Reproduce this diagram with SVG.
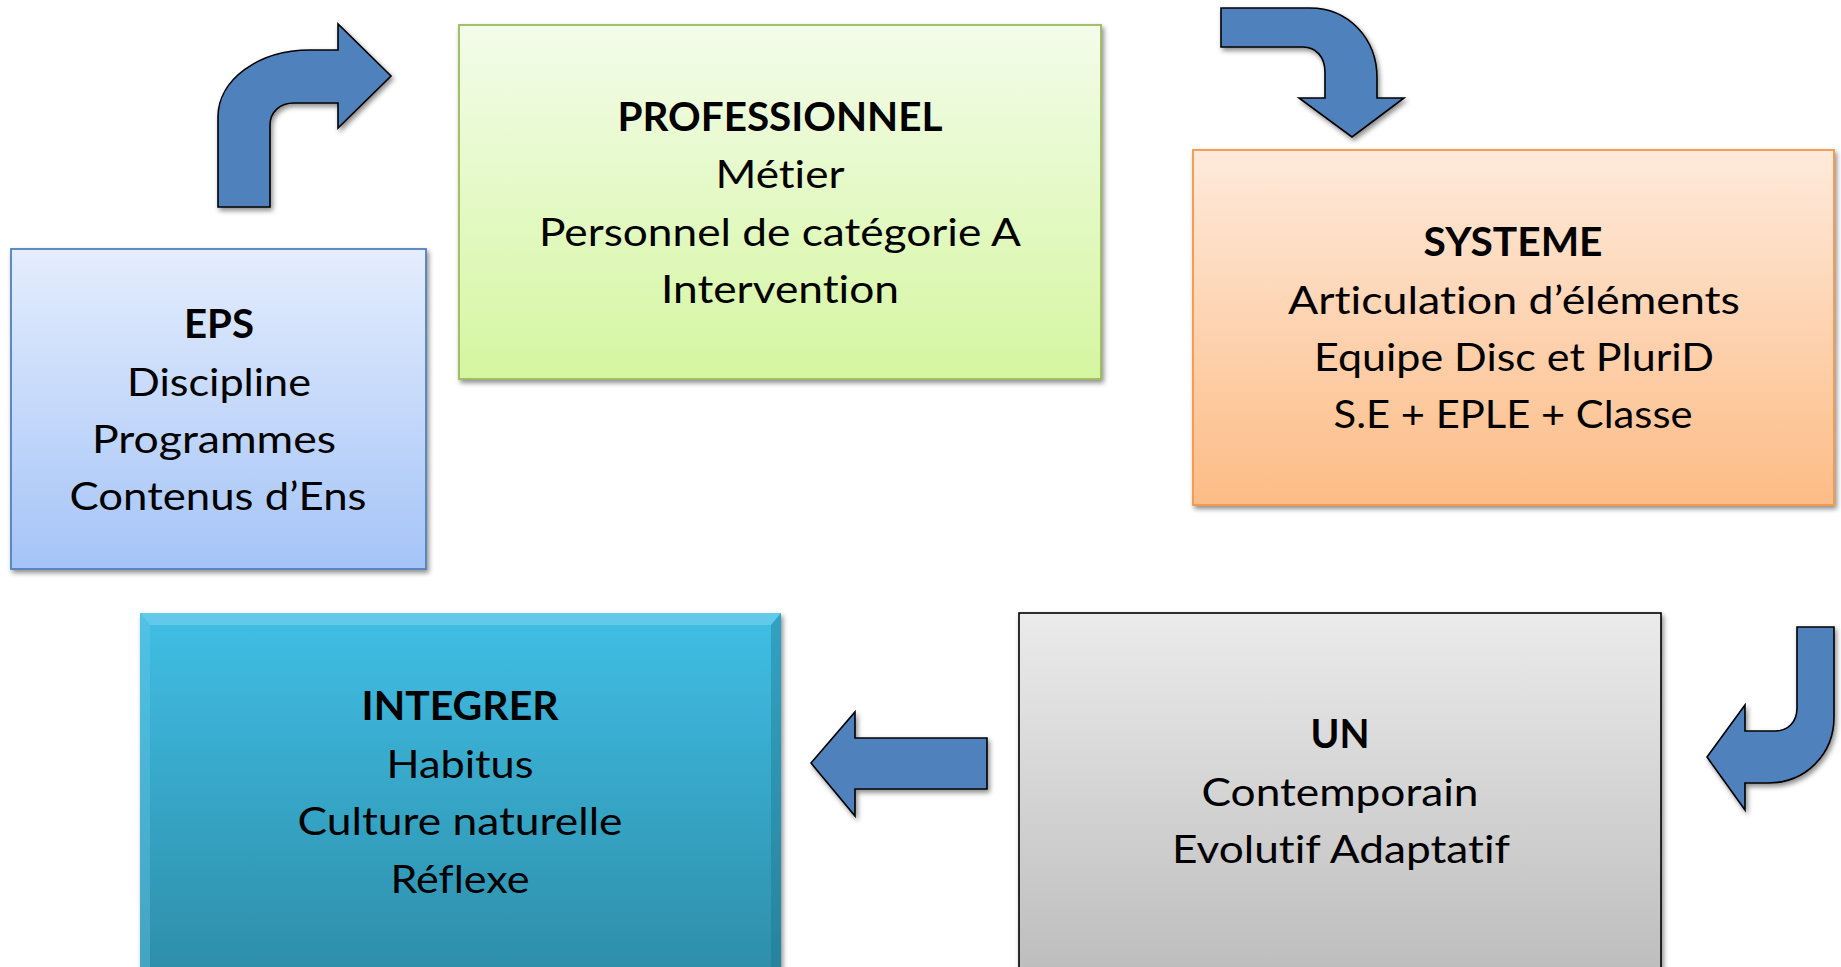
<svg xmlns="http://www.w3.org/2000/svg" width="1841" height="967" viewBox="0 0 1841 967">
<defs>
<style>
text{font-family:Lato,"Open Sans","Liberation Sans",sans-serif;font-size:39.5px;fill:#000;text-anchor:middle;font-variant-ligatures:none}
.t{font-weight:bold}
.arrow{fill:#4F81BD;stroke:#000;stroke-width:1.6;stroke-linejoin:miter}
</style>
<linearGradient id="gBlue" x1="0" y1="0" x2="0" y2="1"><stop offset="0" stop-color="#E4EDFD"/><stop offset="1" stop-color="#A5C4F7"/></linearGradient>
<linearGradient id="gGreen" x1="0" y1="0" x2="0" y2="1"><stop offset="0" stop-color="#F3FCEA"/><stop offset="1" stop-color="#D5F6A0"/></linearGradient>
<linearGradient id="gOrange" x1="0" y1="0" x2="0" y2="1"><stop offset="0" stop-color="#FEEADB"/><stop offset="1" stop-color="#FDBC86"/></linearGradient>
<linearGradient id="gTeal" x1="0" y1="0" x2="0" y2="1"><stop offset="0" stop-color="#40BEE5"/><stop offset="1" stop-color="#2D8DA8"/></linearGradient>
<linearGradient id="gGray" x1="0" y1="0" x2="0" y2="1"><stop offset="0" stop-color="#EBEBEB"/><stop offset="1" stop-color="#BCBCBC"/></linearGradient>
<filter id="sh" x="-5%" y="-5%" width="112%" height="115%"><feDropShadow dx="2" dy="3" stdDeviation="2.5" flood-color="#000" flood-opacity="0.45"/></filter>
</defs>
<rect width="1841" height="967" fill="#fff"/>
<g id="connectors">
<path class="arrow" filter="url(#sh)" d="M218,207 L218,117 C218,80 258,50 310,50 L338,50 L338,24 L391,76 L338,128 L338,103 L294,103 C280,103 270,112 270,125 L270,207 Z"/>
<path class="arrow" filter="url(#sh)" d="M1221,8 L1310,8 C1348,8 1377,38 1377,78 L1377,98 L1404,98 L1352,137 L1299,98 L1325,98 L1325,72 C1325,57 1316,47 1303,47 L1221,47 Z"/>
<path class="arrow" filter="url(#sh)" d="M1797,627 L1834,627 L1834,717 C1834,754 1806,783 1768,783 L1745,783 L1745,810 L1707,757 L1745,705 L1745,731 L1775,731 C1788,731 1797,722 1797,708 Z"/>
<path class="arrow" filter="url(#sh)" d="M811,763 L855,712 L855,738 L987,738 L987,789 L855,789 L855,816 Z"/>
</g>
<g id="eps">
<rect x="11" y="249" width="415" height="320" fill="url(#gBlue)" stroke="#4F81BD" stroke-width="1.8" filter="url(#sh)"/>
<text class="t" x="219" y="338" textLength="70" lengthAdjust="spacingAndGlyphs">EPS</text>
<text x="219" y="396" textLength="184" lengthAdjust="spacingAndGlyphs">Discipline</text>
<text x="214" y="453" textLength="244" lengthAdjust="spacingAndGlyphs">Programmes</text>
<text x="218" y="510" textLength="297" lengthAdjust="spacingAndGlyphs">Contenus d’Ens</text>
</g>
<g id="professionnel">
<rect x="459" y="25" width="642" height="354" fill="url(#gGreen)" stroke="#9BBB59" stroke-width="1.8" filter="url(#sh)"/>
<text class="t" x="780" y="131" textLength="325" lengthAdjust="spacingAndGlyphs">PROFESSIONNEL</text>
<text x="780" y="188" textLength="129" lengthAdjust="spacingAndGlyphs">Métier</text>
<text x="780" y="246" textLength="482" lengthAdjust="spacingAndGlyphs">Personnel de catégorie A</text>
<text x="780" y="303" textLength="238" lengthAdjust="spacingAndGlyphs">Intervention</text>
</g>
<g id="systeme">
<rect x="1193" y="150" width="641" height="355" fill="url(#gOrange)" stroke="#F79646" stroke-width="1.8" filter="url(#sh)"/>
<text class="t" x="1513" y="256" textLength="179" lengthAdjust="spacingAndGlyphs">SYSTEME</text>
<text x="1514" y="314" textLength="452" lengthAdjust="spacingAndGlyphs">Articulation d’éléments</text>
<text x="1514" y="371" textLength="400" lengthAdjust="spacingAndGlyphs">Equipe Disc et PluriD</text>
<text x="1513" y="428" textLength="359" lengthAdjust="spacingAndGlyphs">S.E + EPLE + Classe</text>
</g>
<g id="integrer">
<rect x="140" y="613" width="641" height="370" fill="url(#gTeal)" filter="url(#sh)"/>
<polygon points="140,613 781,613 771,625 150,625" fill="#7FD3EE" opacity="0.55"/>
<polygon points="140,613 150,625 150,983 140,983" fill="#6CCBEA" opacity="0.35"/>
<polygon points="781,613 771,625 771,983 781,983" fill="#1E6D85" opacity="0.35"/>
<text class="t" x="460" y="720" textLength="197" lengthAdjust="spacingAndGlyphs">INTEGRER</text>
<text x="460" y="778" textLength="147" lengthAdjust="spacingAndGlyphs">Habitus</text>
<text x="460" y="835" textLength="325" lengthAdjust="spacingAndGlyphs">Culture naturelle</text>
<text x="460" y="893" textLength="139" lengthAdjust="spacingAndGlyphs">Réflexe</text>
</g>
<g id="un">
<rect x="1019" y="613" width="642" height="370" fill="url(#gGray)" stroke="#000" stroke-width="1.6" filter="url(#sh)"/>
<text class="t" x="1340" y="748" textLength="59" lengthAdjust="spacingAndGlyphs">UN</text>
<text x="1340" y="806" textLength="277" lengthAdjust="spacingAndGlyphs">Contemporain</text>
<text x="1341" y="863" textLength="338" lengthAdjust="spacingAndGlyphs">Evolutif Adaptatif</text>
</g>
</svg>
